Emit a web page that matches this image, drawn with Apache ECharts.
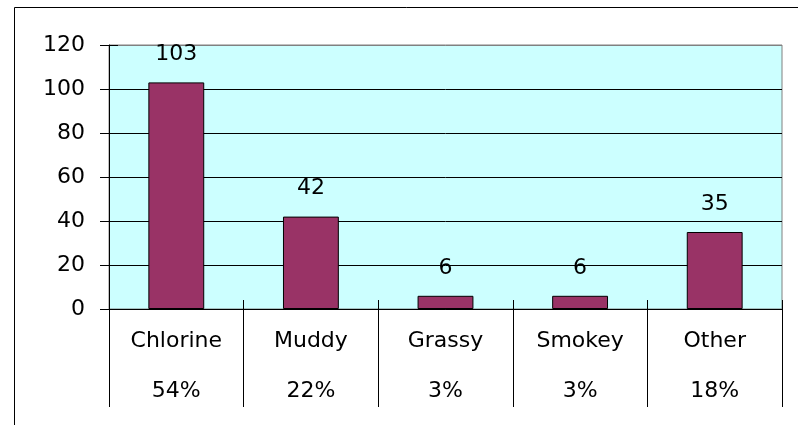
<!DOCTYPE html>
<html>
<head>
<meta charset="utf-8">
<script src="https://cdn.jsdelivr.net/npm/echarts@6/dist/echarts.min.js"></script>
<style>
  html, body { margin: 0; padding: 0; background: #fff; }
  #chart { width: 798px; height: 425px; }
</style>
</head>
<body>
<div id="chart"></div>
<script>
// data
const categories = ['Chlorine', 'Muddy', 'Grassy', 'Smokey', 'Other']
const counts = [103, 42, 6, 6, 35]
const shares = ['54%', '22%', '3%', '3%', '18%']
const yTicks = [0, 20, 40, 60, 80, 100, 120]

// the reference text is wide, DejaVu Sans gets closest
const font = '"DejaVu Sans", Arial, sans-serif'
const fontSize = 22

const chart = echarts.init(document.getElementById('chart'))
chart.setOption({
  backgroundColor: '#fff',
  animation: false,
  // outer chart frame (only left and top edges visible)
  graphic: [{
    type: 'rect',
    shape: {x: 14.5, y: 7.5, width: 900, height: 600},
    style: {fill: 'none', stroke: '#000', lineWidth: 1},
    silent: true
  }],
  grid: {
    left: 109, right: 16, top: 45, bottom: 116,
    show: true,
    backgroundColor: '#CCFFFF',
    borderColor: '#808080',
    borderWidth: 1
  },
  xAxis: [
    {
      type: 'category',
      data: categories,
      axisLine: {lineStyle: {color: '#000', width: 1}},
      axisTick: {show: true, length: 98, lineStyle: {color: '#000'}},
      axisLabel: {
        color: '#000', fontSize: fontSize, fontFamily: font,
        lineHeight: 50, margin: 7,
        formatter: (v, i) => v + '\n' + shares[i]
      }
    },
    {
      type: 'category',
      position: 'bottom',
      data: categories,
      axisLine: {show: false},
      axisTick: {show: true, inside: true, length: 9, lineStyle: {color: '#000'}},
      axisLabel: {show: false}
    }
  ],
  yAxis: [
    {
      type: 'value',
      min: 0, max: 120, interval: 20,
      axisLine: {show: true, lineStyle: {color: '#000'}},
      axisTick: {show: true, length: 9, lineStyle: {color: '#000'}},
      axisLabel: {color: '#000', fontSize: fontSize, fontFamily: font, margin: 24},
      splitLine: {
        show: true,
        lineStyle: {color: yTicks.map(t => t === 120 ? '#808080' : '#000'), width: 1}
      }
    },
    {
      type: 'value',
      position: 'left',
      min: 0, max: 120, interval: 20,
      axisLine: {show: false},
      axisTick: {show: true, inside: true, length: 9, lineStyle: {color: '#000'}},
      axisLabel: {show: false},
      splitLine: {show: false}
    }
  ],
  series: [{
    type: 'bar',
    data: counts,
    barWidth: '41.5%',
    itemStyle: {color: '#993366', borderColor: '#000', borderWidth: 1},
    label: {
      show: true,
      position: 'top',
      distance: 17,
      color: '#000',
      fontSize: fontSize,
      fontFamily: font
    }
  }]
})
</script>
</body>
</html>
